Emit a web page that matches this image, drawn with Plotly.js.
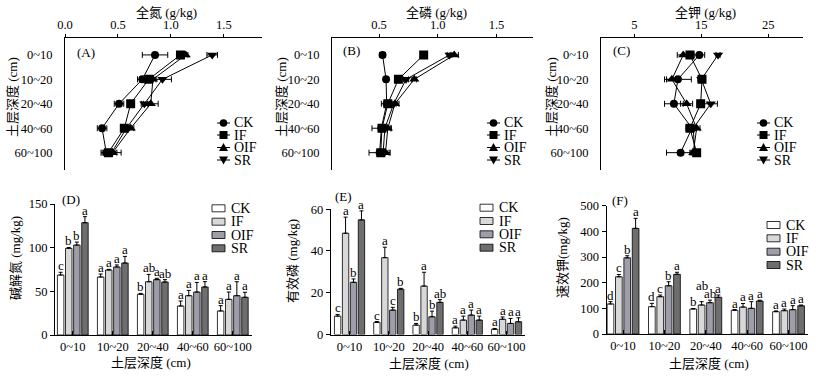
<!DOCTYPE html>
<html><head><meta charset="utf-8">
<script src="https://cdn.plot.ly/plotly-3.0.1.min.js"></script>
<style>body{margin:0;background:#fff;} #chart{width:818px;height:378px;}</style>
</head><body><div id="chart"></div>
<script>
// ---------- data ----------
const depths = ['0~10','10~20','20~40','40~60','60~100'];
const groups = ['CK','IF','OIF','SR'];

// (A) 全氮 g/kg
const tnCK  = [0.85,0.73,0.51,0.35,0.39];
const tnIF  = [1.09,0.79,0.62,0.56,0.41];
const tnOIF = [1.14,0.83,0.81,0.62,0.45];
const tnSR  = [1.39,0.92,0.75,0.58,0.44];
const tnErrCK  = [0.12,0.045,0.045,0.045,0.05];
const tnErrIF  = [0.02,0.03,0.02,0.03,0.04];
const tnErrOIF = [0.02,0.03,0.07,0.03,0.04];
const tnErrSR  = [0.05,0.085,0.03,0.03,0.09];

// (B) 全磷 g/kg
const tpCK  = [0.53,0.56,0.565,0.52,0.505];
const tpIF  = [0.88,0.665,0.575,0.525,0.515];
const tpOIF = [1.14,0.80,0.635,0.575,0.555];
const tpSR  = [1.10,0.73,0.625,0.55,0.535];
const tpErrCK  = [0.025,0.015,0.045,0.08,0.09];
const tpErrIF  = [0.02,0.02,0.02,0.02,0.03];
const tpErrOIF = [0.035,0.02,0.035,0.03,0.03];
const tpErrSR  = [0.02,0.02,0.02,0.02,0.02];

// (C) 全钾 g/kg
const tkCK  = [14.7,11.5,10.9,13.6,11.9];
const tkIF  = [13.3,15.1,14.9,13.3,14.3];
const tkOIF = [12.3,10.6,12.8,14.3,13.8];
const tkSR  = [17.5,15.0,16.4,13.8,14.0];
const tkErrCK  = [0.8,2.0,1.4,0.6,2.1];
const tkErrIF  = [0.5,0.5,0.5,0.6,0.5];
const tkErrOIF = [0.9,0.8,0.9,0.5,0.5];
const tkErrSR  = [0.3,0.5,1.0,0.5,0.5];

// (D) 碱解氮 mg/kg
const anCK  = [68.7,66.4,46.6,33.2,27.5];
const anIF  = [99.2,74.4,61.0,45.0,40.8];
const anOIF = [103.0,77.9,63.4,49.2,45.0];
const anSR  = [128.6,82.4,60.7,55.0,43.2];
const anErrCK  = [3.1,3.4,1.0,5.7,6.1];
const anErrIF  = [1.0,0.8,8.4,6.1,8.4];
const anErrOIF = [3.4,2.3,1.5,11.0,16.0];
const anErrSR  = [6.9,7.6,2.7,6.1,5.7];
const anLetCK  = ['c','a','b','a','a'];
const anLetIF  = ['b','a','ab','a','a'];
const anLetOIF = ['b','a','a','a','a'];
const anLetSR  = ['a','a','ab','a','a'];

// (E) 有效磷 mg/kg
const apCK  = [8.8,5.8,4.5,3.2,2.5];
const apIF  = [48.5,36.8,23.2,6.9,7.3];
const apOIF = [25.0,11.7,8.5,9.3,5.3];
const apSR  = [54.9,21.7,15.4,6.9,6.1];
const apErrCK  = [0.8,0.4,0.8,0.8,0.4];
const apErrIF  = [7.7,5.0,6.6,1.9,1.1];
const apErrOIF = [1.6,1.3,2.7,2.4,2.4];
const apErrSR  = [4.3,0.4,1.3,1.9,1.9];
const apLetCK  = ['c','c','b','a','a'];
const apLetIF  = ['a','a','a','a','a'];
const apLetOIF = ['b','c','b','a','a'];
const apLetSR  = ['a','b','ab','a','a'];

// (F) 速效钾 mg/kg
const akCK  = [117,106.5,97.4,92.2,87];
const akIF  = [223,145.4,113,105,90.9];
const akOIF = [297,188,122,100,94.8];
const akSR  = [411.7,232.5,143,128.6,110];
const akErrCK  = [9,13,2,3,3];
const akErrIF  = [9,6.5,13,14,6.5];
const akErrOIF = [8,15.6,10,26,15.6];
const akErrSR  = [39,8,9,3,3];
const akLetCK  = ['d','d','b','a','a'];
const akLetIF  = ['c','c','ab','a','a'];
const akLetOIF = ['b','b','ab','a','a'];
const akLetSR  = ['a','a','a','a','a'];

// ---------- style ----------
const W = 818, H = 378;
const SERIF = 'Liberation Serif, Times New Roman, serif';
const MIX = 'Liberation Serif, Noto Sans CJK SC, serif';
const barColors = ['#ffffff','#d8d8d8','#9e9daa','#6e6e6e'];
const symbols = ['circle','square','triangle-up','triangle-down'];
const BARGAP = 0.19;

function dx(a,b){return [a/W, b/W];}
function dy(top,bottom){return [1-bottom/H, 1-top/H];}
const P = x => x/W, Q = y => 1-y/H;

const traces = [];
const annotations = [];
const shapes = [];

function lineSet(vals, errs, ax){
  vals.forEach((v,j)=>{
    traces.push({
      type:'scatter', mode:'lines+markers', x:v, y:depths,
      xaxis:'x'+ax, yaxis:'y'+ax, name:groups[j], showlegend:false,
      line:{color:'#000',width:1},
      marker:{symbol:symbols[j], size: j===0?8:9, color:'#000'},
      error_x:{type:'data', array:errs[j], color:'#000', thickness:1, width:3}
    });
  });
}
function barSet(vals, errs, letters, ax){
  const w = (1-BARGAP)/4;
  vals.forEach((v,j)=>{
    traces.push({
      type:'bar', x:depths, y:v, xaxis:'x'+ax, yaxis:'y'+ax, name:groups[j], showlegend:false,
      marker:{color:barColors[j], line:{color:'#000',width:0.8}},
      error_y:{type:'data', symmetric:false, array:errs[j], arrayminus:errs[j].map(()=>0),
               color:'#000', thickness:1, width:2}
    });
    v.forEach((val,i)=>{
      // raise IF's two-letter label when OIF's label is also two letters (avoid collision)
      const raise = (j===1 && letters[1][i].length>1 && letters[2][i].length>1) ? 10 : 0;
      annotations.push({
        xref:'x'+ax, yref:'y'+ax, x: i + (j-1.5)*w, y: val + errs[j][i],
        text: letters[j][i], showarrow:false, xanchor:'center', yanchor:'bottom', yshift:-3+raise,
        font:{family:SERIF, size:13, color:'#000'}
      });
    });
  });
}

lineSet([tnCK,tnIF,tnOIF,tnSR],[tnErrCK,tnErrIF,tnErrOIF,tnErrSR],'');
lineSet([tpCK,tpIF,tpOIF,tpSR],[tpErrCK,tpErrIF,tpErrOIF,tpErrSR],'2');
lineSet([tkCK,tkIF,tkOIF,tkSR],[tkErrCK,tkErrIF,tkErrOIF,tkErrSR],'3');
barSet([anCK,anIF,anOIF,anSR],[anErrCK,anErrIF,anErrOIF,anErrSR],[anLetCK,anLetIF,anLetOIF,anLetSR],'4');
barSet([apCK,apIF,apOIF,apSR],[apErrCK,apErrIF,apErrOIF,apErrSR],[apLetCK,apLetIF,apLetOIF,apLetSR],'5');
barSet([akCK,akIF,akOIF,akSR],[akErrCK,akErrIF,akErrOIF,akErrSR],[akLetCK,akLetIF,akLetOIF,akLetSR],'6');

const tickFont = {family:SERIF, size:12.5, color:'#000'};
const baseAx = {showline:true, linecolor:'#000', linewidth:1, showgrid:false, zeroline:false,
                tickcolor:'#000', tickwidth:1, tickfont:tickFont, fixedrange:true};

function topX(dom, anchor, range, tick0, dtick, fmt){
  return Object.assign({}, baseAx, {domain:dom, anchor:anchor, side:'top', range:range,
    tick0:tick0, dtick:dtick, tickformat:fmt, ticks:'outside', ticklen:3});
}
function topY(anchor){
  return Object.assign({}, baseAx, {domain:dy(38.3,170), anchor:anchor, type:'category',
    categoryorder:'array', categoryarray:depths, range:[4.71,-0.68], ticks:'', ticklabelstandoff:9});
}
function botX(dom, anchor, range){
  return Object.assign({}, baseAx, {domain:dom, anchor:anchor, type:'category',
    categoryorder:'array', categoryarray:depths, range:range, ticks:'inside', ticklen:4});
}
function botY(dom, anchor, range, dtick){
  return Object.assign({}, baseAx, {domain:dom, anchor:anchor, range:range, dtick:dtick,
    ticks:'outside', ticklen:4});
}

function ann(text, xpx, ypx, opts){
  annotations.push(Object.assign({xref:'paper', yref:'paper', x:P(xpx), y:Q(ypx), text:text,
    showarrow:false, xanchor:'center', yanchor:'middle',
    font:{family:MIX, size:13, color:'#000'}}, opts||{}));
}

// ---- legend keys (drawn as layout decorations) ----
function lineKey(x0, rows){
  groups.forEach((g,j)=>{
    const y = rows[j], cx = x0+6.5;
    shapes.push({type:'line', xref:'paper', yref:'paper', x0:P(x0), x1:P(x0+13), y0:Q(y), y1:Q(y),
                 line:{color:'#000', width:1}});
    const k = {xref:'paper', yref:'paper', fillcolor:'#000', line:{width:0}};
    if(j===0) shapes.push(Object.assign({type:'circle', x0:P(cx-3.8), x1:P(cx+3.8), y0:Q(y+3.8), y1:Q(y-3.8)},k));
    if(j===1) shapes.push(Object.assign({type:'rect', x0:P(cx-4), x1:P(cx+4), y0:Q(y+4), y1:Q(y-4)},k));
    if(j===2) shapes.push(Object.assign({type:'path',
      path:`M${P(cx-4.5)},${Q(y+3.5)} L${P(cx+4.5)},${Q(y+3.5)} L${P(cx)},${Q(y-4.5)} Z`},k));
    if(j===3) shapes.push(Object.assign({type:'path',
      path:`M${P(cx-4.5)},${Q(y-3.5)} L${P(cx+4.5)},${Q(y-3.5)} L${P(cx)},${Q(y+4.5)} Z`},k));
    ann(g, x0+15, y, {xanchor:'left', font:{family:SERIF, size:14, color:'#000'}});
  });
}
function barKey(x0, rows){
  groups.forEach((g,j)=>{
    const y = rows[j];
    shapes.push({type:'rect', xref:'paper', yref:'paper', x0:P(x0), x1:P(x0+13), y0:Q(y+3.5), y1:Q(y-3.5),
                 fillcolor:barColors[j], line:{color:'#000', width:0.8}});
    ann(g, x0+17, y, {xanchor:'left', font:{family:SERIF, size:14, color:'#000'}});
  });
}
lineKey(217, [123,135,147.5,160]);
lineKey(487, [123,135,147.5,160]);
lineKey(757, [123,135,147.5,160]);
barKey(212, [208.3,221.7,235,248.3]);
barKey(480, [207.7,221,234.3,247.7]);
barKey(767, [225,238.3,251.7,265]);

// titles
ann('全氮 (g/kg)',166,12);
ann('全磷 (g/kg)',436,12);
ann('全钾 (g/kg)',705,12);
ann('土层深度 (cm)',12,97,{textangle:-90});
ann('土层深度 (cm)',281,97,{textangle:-90});
ann('土层深度 (cm)',551,97,{textangle:-90});
ann('碱解氮 (mg/kg)',15,258,{textangle:-90});
ann('有效磷 (mg/kg)',292,261,{textangle:-90});
ann('速效钾(mg/kg)',562,258,{textangle:-90});
ann('土层深度 (cm)',151,362);
ann('土层深度 (cm)',429,363);
ann('土层深度 (cm)',709,363);
// panel labels
ann('(A)',75,52,{xanchor:'left'});
ann('(B)',341,50,{xanchor:'left'});
ann('(C)',611,50,{xanchor:'left'});
ann('(D)',60,199,{xanchor:'left'});
ann('(E)',333,196,{xanchor:'left'});
ann('(F)',610,200,{xanchor:'left'});

const layout = {
  width:W, height:H, margin:{l:0,r:0,t:0,b:0},
  paper_bgcolor:'#fff', plot_bgcolor:'rgba(0,0,0,0)',
  showlegend:false, barmode:'group', bargap:BARGAP, bargroupgap:0.2,
  xaxis:  topX(dx(65,262),'y',[0,1.86],0,0.5,'.1f'),
  yaxis:  topY('x'),
  xaxis2: topX(dx(332,533),'y2',[0.1,1.81],0,0.5,'.1f'),
  yaxis2: topY('x2'),
  xaxis3: topX(dx(601,803),'y3',[0,30.2],5,10,'d'),
  yaxis3: topY('x3'),
  xaxis4: botX(dx(55,252),'y4',[-0.445,4.48]),
  yaxis4: botY(dy(204,335),'x4',[0,150],50),
  xaxis5: botX(dx(330.7,525),'y5',[-0.48,4.47]),
  yaxis5: botY(dy(209.2,334.5),'x5',[0,60],20),
  xaxis6: botX(dx(606.5,808),'y6',[-0.40,4.47]),
  yaxis6: botY(dy(205.7,334),'x6',[0,500],100),
  shapes: shapes,
  annotations: annotations
};

Plotly.newPlot('chart', traces, layout, {displayModeBar:false, staticPlot:true});
</script>
</body></html>
